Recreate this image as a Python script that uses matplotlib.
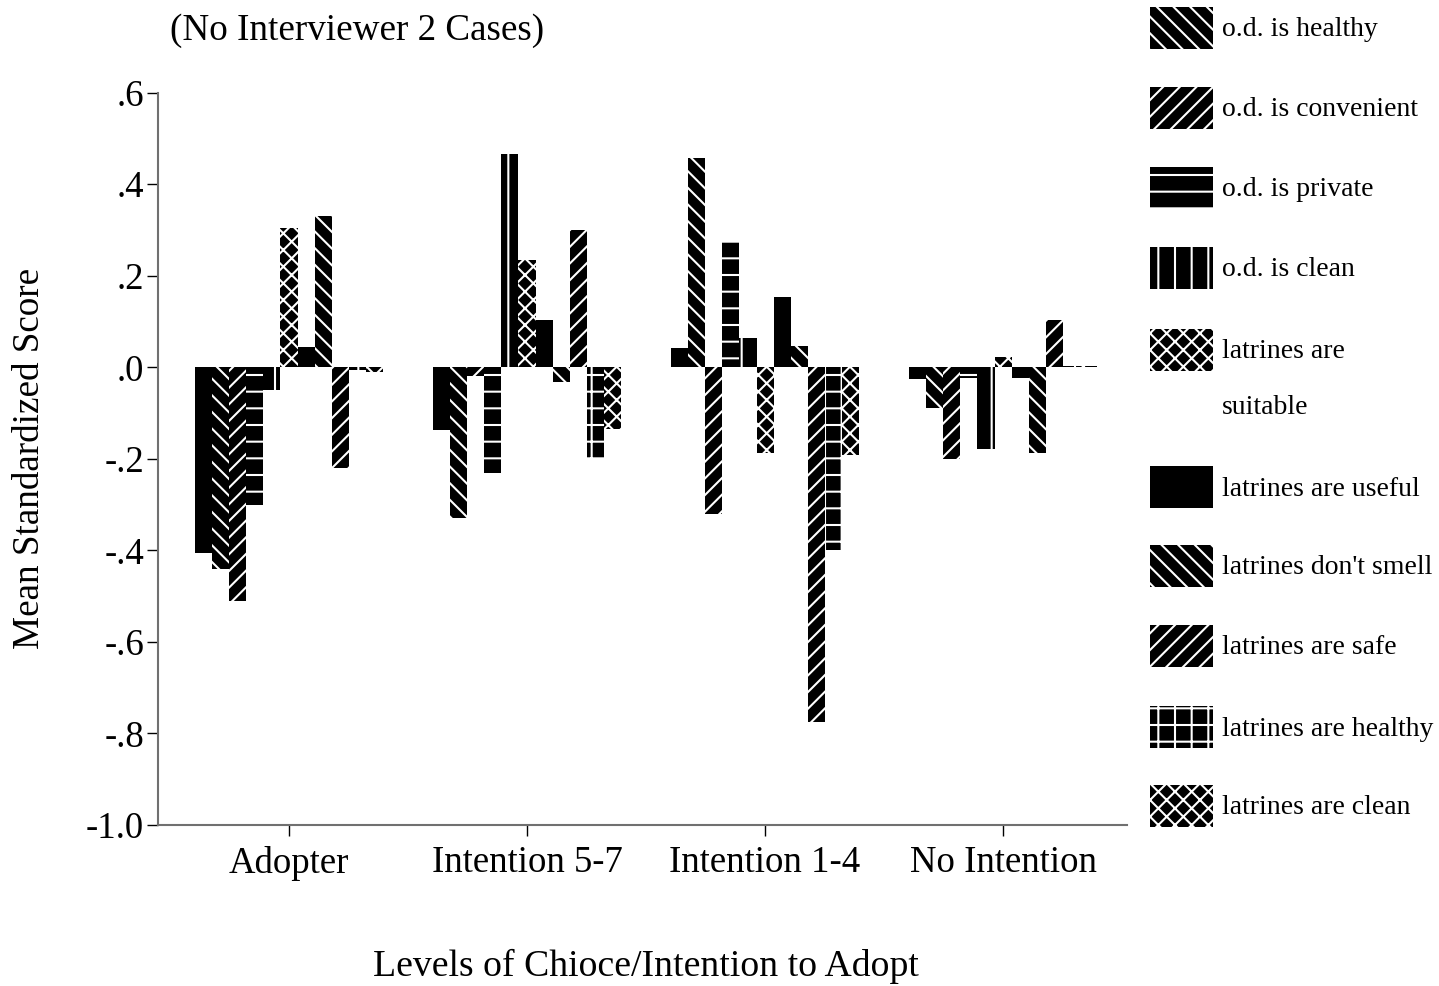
import matplotlib
matplotlib.use('Agg')
import matplotlib.pyplot as plt
from matplotlib.patches import Rectangle
import numpy as np

plt.rcParams['font.family'] = ['Liberation Serif', 'DejaVu Serif']
plt.rcParams['hatch.linewidth'] = 1.5

categories = ['Adopter', 'Intention 5-7', 'Intention 1-4', 'No Intention']
series_names = ['(not in legend)', 'o.d. is healthy', 'o.d. is convenient', 'o.d. is private',
                'o.d. is clean', 'latrines are\n\nsuitable', 'latrines are useful',
                "latrines don't smell", 'latrines are safe', 'latrines are healthy',
                'latrines are clean']
adopter = [-0.405, -0.44, -0.51, -0.30, -0.05, 0.305, 0.045, 0.33, -0.22, -0.005, -0.01]
intention_5_7 = [-0.137, -0.33, -0.018, -0.232, 0.466, 0.234, 0.103, -0.033, 0.299, -0.199, -0.134]
intention_1_4 = [0.042, 0.457, -0.32, 0.273, 0.065, -0.187, 0.154, 0.046, -0.775, -0.40, -0.192]
no_intention = [-0.025, -0.088, -0.20, -0.024, -0.178, 0.022, -0.023, -0.188, 0.104, 0.003, 0.002]
y_ticks = [0.6, 0.4, 0.2, 0.0, -0.2, -0.4, -0.6, -0.8, -1.0]
y_tick_labels = ['.6', '.4', '.2', '.0', '-.2', '-.4', '-.6', '-.8', '-1.0']

hatches = ['', '\\\\', '//', '-', '|', 'xx', '', '\\\\', '//', '+', 'xx']

values = np.array([adopter, intention_5_7, intention_1_4, no_intention])  # groups x series
n_series = values.shape[1]
bar_w = 0.072

W, H = 1439, 986
fig = plt.figure(figsize=(W / 100, H / 100), dpi=100)
ax = fig.add_axes([158 / W, 1 - 825 / H, (1127 - 158) / W, (825 - 92.7) / H])

x = np.arange(len(categories))
for i in range(n_series):
    ax.bar(x + (i - (n_series - 1) / 2) * bar_w, values[:, i], width=bar_w,
           color='black', edgecolor='white', linewidth=0, hatch=hatches[i])

ax.set_xlim(-0.55, 3.52)
ax.set_ylim(-1.0, 0.6)
ax.set_xticks(x)
ax.set_xticklabels(categories)
ax.set_yticks(y_ticks)
ax.set_yticklabels(y_tick_labels)
ax.tick_params(axis='both', direction='out', length=8, width=1, colors='black', labelsize=26.5)
ax.tick_params(axis='y', pad=2)
ax.tick_params(axis='x', pad=7)
for s in ['top', 'right']:
    ax.spines[s].set_visible(False)
for s in ['left', 'bottom']:
    ax.spines[s].set_color('#707070')
    ax.spines[s].set_linewidth(1.5)

fig.text(170 / W, 1 - 31 / H, '(No Interviewer 2 Cases)', ha='left', va='center', fontsize=26.7)
fig.text(646 / W, 1 - 966 / H, 'Levels of Chioce/Intention to Adopt', ha='center', va='center', fontsize=27.2)
fig.text(30 / W, 1 - 458 / H, 'Mean Standardized Score', ha='center', va='center',
         rotation=90, fontsize=26.7)

# legend (manual, matches original layout)
legend_text_y = [30, 110, 190, 270, 352, 489, 568, 648, 729, 808]
for k, name in enumerate(series_names[1:]):
    yc = legend_text_y[k]
    if '\n' in name:
        first, last = name.split('\n\n')
        fig.text(1222 / W, 1 - yc / H, first, ha='left', va='center', fontsize=20)
        fig.text(1222 / W, 1 - 408 / H, last, ha='left', va='center', fontsize=20)
    else:
        fig.text(1222 / W, 1 - yc / H, name, ha='left', va='center', fontsize=20)
    sw_top = yc - 23
    fig.add_artist(Rectangle((1150 / W, 1 - (sw_top + 42) / H), 63 / W, 42 / H,
                             transform=fig.transFigure, facecolor='black',
                             edgecolor='white', linewidth=0, hatch=hatches[k + 1]))

fig.savefig('out.png', dpi=100)
